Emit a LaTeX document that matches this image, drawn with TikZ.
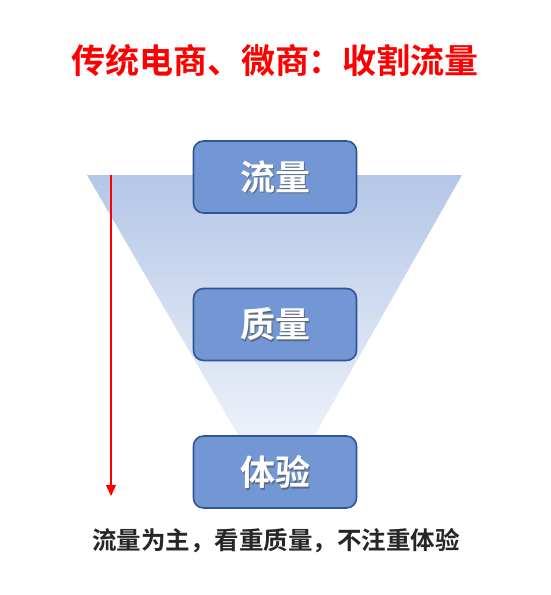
\documentclass[tikz,border=0pt]{standalone}
\usepackage{fontspec}
\newfontfamily\cjk{Noto Sans CJK SC Bold}
\usetikzlibrary{arrows.meta}
\definecolor{titlered}{HTML}{FF0000}
\definecolor{boxfill}{HTML}{7397D4}
\definecolor{boxline}{HTML}{2F5597}
\definecolor{funtop}{HTML}{B4C7E7}
\definecolor{funbot}{HTML}{EEF2FA}
\definecolor{txtdark}{HTML}{262626}
\tikzset{
  stagebox/.style={draw=boxline, line width=1.6pt, fill=boxfill, rounded corners=10pt,
    minimum width=163pt, minimum height=72pt, inner sep=0pt},
  stagetext/.style={text=white, font=\cjk\fontsize{35}{35}\selectfont, inner sep=0pt},
  stageshadow/.style={text=black!70, font=\cjk\fontsize{35}{35}\selectfont, inner sep=0pt, opacity=0.6},
}
\begin{document}
\begin{tikzpicture}[x=1pt,y=-1pt]
\useasboundingbox (0,0) rectangle (550,595);
\fill[white] (0,0) rectangle (550,595);
% funnel
\shade[top color=funtop, bottom color=funbot] (87,175) -- (462,175) -- (312,440) -- (241,440) -- cycle;
% title
\node[text=titlered, font=\cjk\fontsize{34}{34}\selectfont] (title) at (275,61) {传统电商、微商：收割流量};
% boxes
\foreach \nm/\yy/\tx in {b1/177/流量, b2/324.5/质量, b3/472/体验}{
  \node[stagebox] (\nm) at (275,\yy) {};
  \node[stageshadow] at ([xshift=1.5pt,yshift=-1.5pt]\nm.center) {\tx};
  \node[stagetext] (\nm t) at (\nm.center) {\tx};
}
% red arrow
\coordinate (as) at (111,175);
\coordinate (ae) at (111,496);
\draw[titlered, line width=1.2pt, -{Triangle[length=11pt,width=10pt]}] (as) -- (ae);
% bottom caption
\node[text=txtdark, font=\cjk\fontsize{24.5}{24.5}\selectfont] (cap) at (276,541) {流量为主，看重质量，不注重体验};
\end{tikzpicture}
\end{document}
